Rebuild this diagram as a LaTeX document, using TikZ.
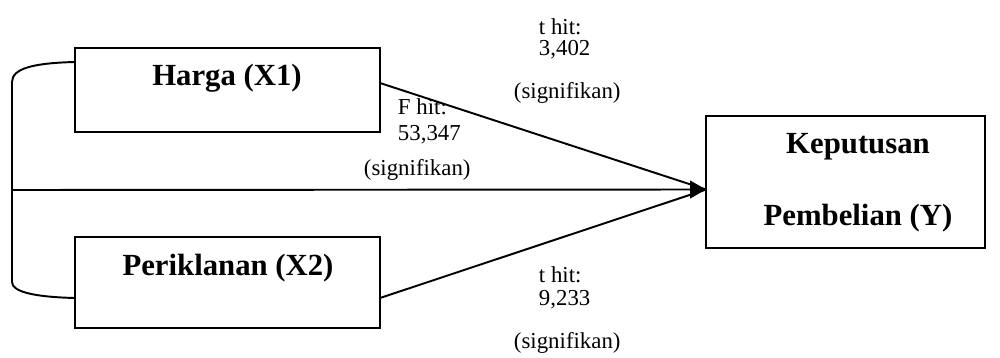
\documentclass[tikz,border=0pt]{standalone}
\usepackage{fontspec}
\setmainfont{Liberation Serif}
\usetikzlibrary{arrows.meta,calc}
\begin{document}
\begin{tikzpicture}[x=0.02cm,y=-0.02cm,line width=1.1pt,
  varbox/.style={draw,rectangle,inner sep=0pt,font=\fontsize{17.5}{20}\selectfont\bfseries},
  lbl/.style={inner sep=0pt,anchor=west,font=\fontsize{13}{15}\selectfont},
  bold/.style={inner sep=0pt,font=\fontsize{17.5}{20}\selectfont\bfseries},
  tip/.style={-{Triangle[length=9pt,width=10pt]}}]
\useasboundingbox (0,0) rectangle (1000,358);
\node[varbox,minimum width=6.1cm,minimum height=1.68cm] (x1) at (227.5,90) {};
\node[bold] (x1t) at (227,78) {Harga (X1)};
\node[varbox,minimum width=6.1cm,minimum height=1.82cm] (x2) at (227.5,282.5) {};
\node[bold] (x2t) at (228,268) {Periklanan (X2)};
\node[varbox,minimum width=5.58cm,minimum height=2.64cm] (y) at (845.5,182) {};
\node[bold] (yt1) at (858,147) {Keputusan};
\node[bold] (yt2) at (858,218) {Pembelian (Y)};
\coordinate (tipc) at (706,189.5);
\coordinate (b1) at (75,62);
\coordinate (b2) at (75,298);
\coordinate (bm) at (12,190);
\coordinate (s1) at (380,83);
\coordinate (s2) at (380,298);
\draw (b1) .. controls (35,63) and (12,68) .. (12,82) -- (12,282) .. controls (12,292) and (35,297) .. (b2);
\draw[tip] (bm) -- (tipc);
\draw (s1) -- (tipc);
\draw (s2) -- (tipc);
\node[lbl] (t1a) at (538,27) {t hit:};
\node[lbl] (t1b) at (538,50) {3,402};
\node[lbl] (t1c) at (513,93) {(signifikan)};
\node[lbl] (fa) at (397,107) {F hit:};
\node[lbl] (fb) at (397,135) {53,347};
\node[lbl] (fc) at (363,170) {(signifikan)};
\node[lbl] (t2a) at (538,275) {t hit:};
\node[lbl] (t2b) at (538,300) {9,233};
\node[lbl] (t2c) at (513,343) {(signifikan)};
\end{tikzpicture}
\end{document}
